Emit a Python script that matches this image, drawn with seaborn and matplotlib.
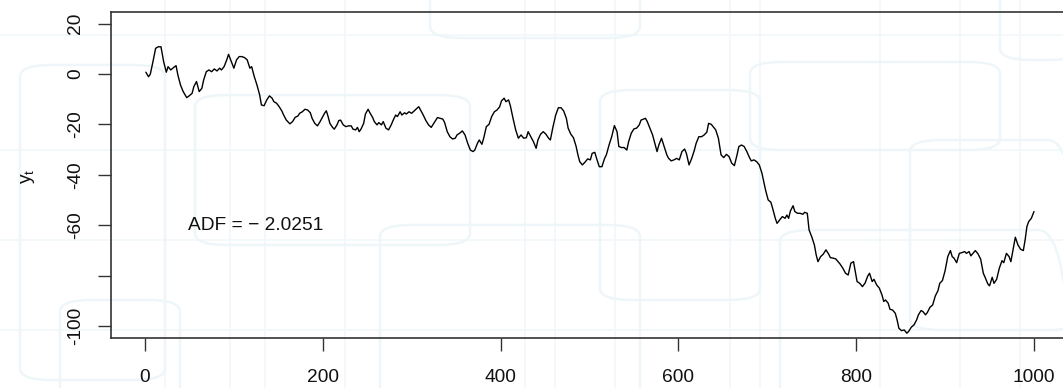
import matplotlib
matplotlib.use("Agg")
import matplotlib.pyplot as plt
from matplotlib.patches import FancyBboxPatch
from matplotlib.lines import Line2D
import numpy as np
import pandas as pd
import seaborn as sns

# ---- series: time index and simulated random-walk values ----
t = [1, 4, 6, 9, 12, 15, 18, 21, 24, 26, 29, 32, 35, 37, 40, 43, 47, 50, 53, 55,
     58, 61, 64, 66, 69, 72, 75, 78, 81, 84, 86, 89, 92, 94, 98, 100, 103, 106, 109, 112,
     115, 118, 120, 123, 126, 129, 131, 134, 137, 140, 143, 145, 148, 151, 154, 156, 159,
     163, 166, 169, 172, 174, 177, 180, 183, 186, 188, 191, 194, 197, 199, 202, 204, 206,
     208, 211, 213, 216, 218, 220, 223, 226, 229, 232, 234, 237, 239, 241, 243, 246, 248,
     251, 253, 256, 258, 261, 263, 266, 268, 271, 274, 277, 279, 282, 284, 287, 289, 292,
     294, 297, 300, 303, 306, 308, 310, 313, 316, 319, 322,
     326, 329, 332, 335, 337, 340, 343, 346, 349, 351, 354, 357, 360, 363, 366, 369, 371,
     374, 376, 379, 381, 384, 387, 390, 393, 396, 399, 401, 404, 406, 409, 411, 414, 417,
     420, 423, 426, 429, 431, 434, 437, 440, 442, 445, 448, 451, 454, 456, 459, 462, 465,
     468, 471, 474, 476, 479, 482, 485, 487,
     489, 492, 495, 498, 501, 503, 506, 508, 511, 514, 517, 519, 522, 525, 528, 531, 533,
     536, 539, 542, 544, 547, 550, 553, 556, 558, 561, 563, 565, 568, 571, 573, 576, 578,
     581, 584, 587, 589, 592, 595, 598, 601, 604, 607, 609, 612, 615, 618, 620, 623, 626,
     629, 632, 634, 637, 640, 642, 645,
     648, 651, 654, 657, 660, 663, 666, 668, 671, 674, 677, 680, 682, 685, 688, 691, 694,
     696, 698, 701, 704, 706, 709, 711, 714, 717, 720, 722, 724, 726, 729, 731, 734, 737,
     740, 742, 745, 747, 750, 753, 755, 757, 760, 763, 766, 769, 771, 774, 777, 780, 782,
     785, 788, 791, 794, 797, 799, 801, 804, 807, 810,
     813, 815, 818, 820, 823, 826, 829, 831, 833, 836, 838, 841, 844, 846, 848, 851, 854,
     857, 859, 862, 865, 868, 870, 873, 875, 878, 880, 883, 886, 889, 892, 894, 897, 900,
     903, 906, 908, 910, 913, 916, 919, 922, 924, 927, 929, 932, 934, 937, 940, 943, 945,
     948, 950, 953, 955, 958, 961, 964, 966, 969, 972, 974, 977, 979, 982, 985, 988, 990,
     992, 994, 997, 1000]

y = [0.7, -1.1, -0.1, 4.9, 10.2, 10.8, 10.8, 4.9, 0.7, 2.9, 1.6, 2.5, 3.3, -0.4, -4.4,
     -7.0, -9.4, -8.6, -7.7, -5.0, -3.0, -7.0, -5.7, -2.4, 0.9, 1.6, 0.9, 2.0, 1.2, 2.3,
     1.6, 2.9, 5.6, 7.8, 4.2, 2.3, 5.6, 6.9, 6.9, 6.5, 5.6, 2.3, 2.9, -1.1, -4.4, -8.3,
     -12.3, -12.6, -10.3, -8.7, -9.6, -11.0, -11.6, -13.0, -14.7, -16.3, -18.3,
     -19.8, -18.9, -17.2, -16.7, -15.6, -15.0, -14.0, -14.3, -15.4, -17.6, -19.6, -20.6,
     -18.9, -17.6, -15.6, -14.6, -16.9, -19.6, -21.2, -21.9, -20.2, -18.5, -18.3, -20.2,
     -20.9, -20.6, -20.6, -21.9, -22.2, -21.2, -22.9, -21.9, -19.6, -15.9, -14.0, -15.4,
     -17.2, -18.9, -20.2, -19.3, -20.2, -18.9, -21.5, -22.2, -20.2, -18.5, -16.3, -16.9,
     -15.0, -16.3, -15.4, -15.9, -15.0, -15.6, -14.6, -13.6, -13.0, -14.3, -16.3, -18.5,
     -20.2, -21.2,
     -19.0, -17.3, -17.6, -17.9, -19.2, -22.9, -24.9, -25.8, -25.5, -24.2, -23.5, -22.6,
     -24.2, -27.5, -30.2, -30.8, -30.2, -27.5, -26.2, -27.9, -25.5, -20.9, -20.0, -16.9,
     -15.0, -14.3, -13.0, -10.7, -9.6, -11.0, -10.3, -12.6, -17.6, -22.2, -25.5, -24.2,
     -25.5, -25.3, -22.9, -24.9, -26.9, -29.5, -26.2, -23.9, -22.9, -23.9, -25.5, -26.2,
     -20.9, -16.3, -13.4, -13.4, -14.7, -17.6, -21.5, -23.9, -25.3, -28.8, -32.1,
     -34.8, -36.1, -35.0, -33.7, -34.1, -31.5, -31.1, -33.5, -36.8, -36.8, -33.5, -32.1,
     -28.2, -24.9, -20.5, -22.9, -28.8, -29.2, -29.2, -30.2, -26.9, -23.5, -21.8, -21.5,
     -20.2, -18.3, -17.9, -17.6, -18.9, -21.5, -24.2, -26.9, -30.8, -28.2, -25.5, -28.8,
     -32.1, -33.5, -34.5, -34.1, -33.5, -34.1, -30.8, -29.8, -31.5, -36.1, -33.5, -30.2,
     -27.5, -24.9, -24.9, -24.2, -23.1, -19.6, -20.0, -21.3, -22.2, -25.5,
     -32.1, -33.2, -31.9, -32.8, -35.4, -36.4, -32.1, -28.8, -28.2, -28.8, -30.8, -33.2,
     -34.5, -34.1, -34.8, -36.1, -39.4, -42.7, -46.0, -50.0, -50.9, -53.3, -57.3, -59.3,
     -57.9, -56.6, -57.3, -56.0, -57.3, -54.4, -52.3, -54.6, -55.3, -55.3, -55.7, -54.9,
     -55.3, -61.9, -64.6, -67.9, -71.8, -74.5, -72.5, -71.5, -69.8, -71.5, -72.9, -73.1,
     -73.4, -74.7, -75.5, -77.1, -79.1, -79.8, -75.1, -74.5, -78.5, -82.4, -83.1, -84.4,
     -83.0,
     -80.2, -79.1, -82.4, -81.5, -83.7, -85.0, -87.7, -90.3, -89.7, -91.0, -93.4, -93.7,
     -95.0, -97.6, -100.9, -101.9, -101.6, -102.9, -102.2, -100.5, -99.6, -97.6, -95.6,
     -93.9, -94.3, -95.6, -94.7, -92.6, -91.7, -88.1, -86.0, -83.1, -82.0, -78.1, -72.5,
     -70.1, -72.5, -73.1, -74.9, -71.2, -70.9, -70.5, -71.2, -70.5, -72.2, -70.9, -70.1,
     -71.4, -73.5, -79.1, -80.7, -83.3, -84.1, -80.7, -83.1, -81.5, -77.1, -74.1, -74.9,
     -71.2, -72.5, -74.5, -68.8, -64.8, -67.9, -69.6, -70.1, -65.9, -60.6, -58.6, -57.3,
     -54.6]

x_ticks = [0, 200, 400, 600, 800, 1000]
y_ticks = [-100, -80, -60, -40, -20, 0, 20]
y_tick_labels = ["-100", "", "-60", "-40", "-20", "0", "20"]
adf_stat = -2.0251

df = pd.DataFrame({"t": t, "y": y})

sns.set_style("white")
plt.rcParams["font.family"] = ["Liberation Sans", "DejaVu Sans"]
plt.rcParams["axes.unicode_minus"] = False

W, H = 1063, 388
fig = plt.figure(figsize=(W / 100, H / 100), dpi=100)
fig.patch.set_facecolor("white")

# faint decorative backdrop: rounded frames and thin rules
deco = "#eef6f9"
frames = [(20, 65, 145, 315), (195, 95, 275, 150), (430, -30, 210, 68),
          (600, 90, 160, 210), (750, 62, 250, 88), (780, 230, 290, 180),
          (380, 225, 260, 180), (910, 140, 170, 190), (1000, -20, 80, 80),
          (60, 300, 120, 100)]
for fx, fy, fw, fh in frames:
    fig.patches.append(FancyBboxPatch(
        (fx / W, 1 - (fy + fh) / H), fw / W, fh / H,
        boxstyle="round,pad=0,rounding_size=0.03", transform=fig.transFigure,
        fill=False, edgecolor=deco, lw=1.8, zorder=-2))
for vx in [165, 230, 265, 345, 525, 555, 615, 730, 760, 880, 960, 1020]:
    fig.lines.append(Line2D([vx / W, vx / W], [0, 1], transform=fig.transFigure,
                            color="#f1f7fa", lw=1.2, zorder=-2))
for hy in [35, 150, 240, 330]:
    fig.lines.append(Line2D([0, 1], [1 - hy / H, 1 - hy / H], transform=fig.transFigure,
                            color="#f1f7fa", lw=1.2, zorder=-2))

# plot region (right edge runs past the canvas)
left, right, top, bottom = 111, 1070, 12, 338
ax = fig.add_axes([left / W, 1 - bottom / H, (right - left) / W, (bottom - top) / H])
ax.set_facecolor("none")
ax.set_zorder(2)

sns.lineplot(data=df, x="t", y="y", ax=ax, color="black", lw=1.0,
             estimator=None, sort=False)

ax.set_xlim(-38.2, 1040.5)
ax.set_ylim(-104.8, 24.6)
ax.set_xticks(x_ticks)
ax.set_xticklabels([str(v) for v in x_ticks])
ax.set_yticks(y_ticks)
ax.set_yticklabels(y_tick_labels, rotation=90, va="center")
ax.set_xlabel("")
ax.set_ylabel("")

for s in ax.spines.values():
    s.set_visible(True)
    s.set_color("#333333")
    s.set_linewidth(1.2)

ax.tick_params(axis="both", direction="out", length=9.3, width=1.0,
               color="#333333", labelsize=13.8, labelcolor="#111111")
ax.tick_params(axis="x", pad=13)
ax.tick_params(axis="y", pad=10)
ax.tick_params(bottom=True, left=True, top=False, right=False)

ax.text(124, -60, f"ADF = \u2212 {abs(adf_stat):.4f}", ha="center", va="center",
        fontsize=13.8, color="#111111")

fig.text(28 / W, 1 - 176 / H, r"$\mathregular{y_t}$", rotation=90,
         ha="center", va="center", fontsize=13.8, color="#111111")

fig.savefig("out.png", dpi=100)
